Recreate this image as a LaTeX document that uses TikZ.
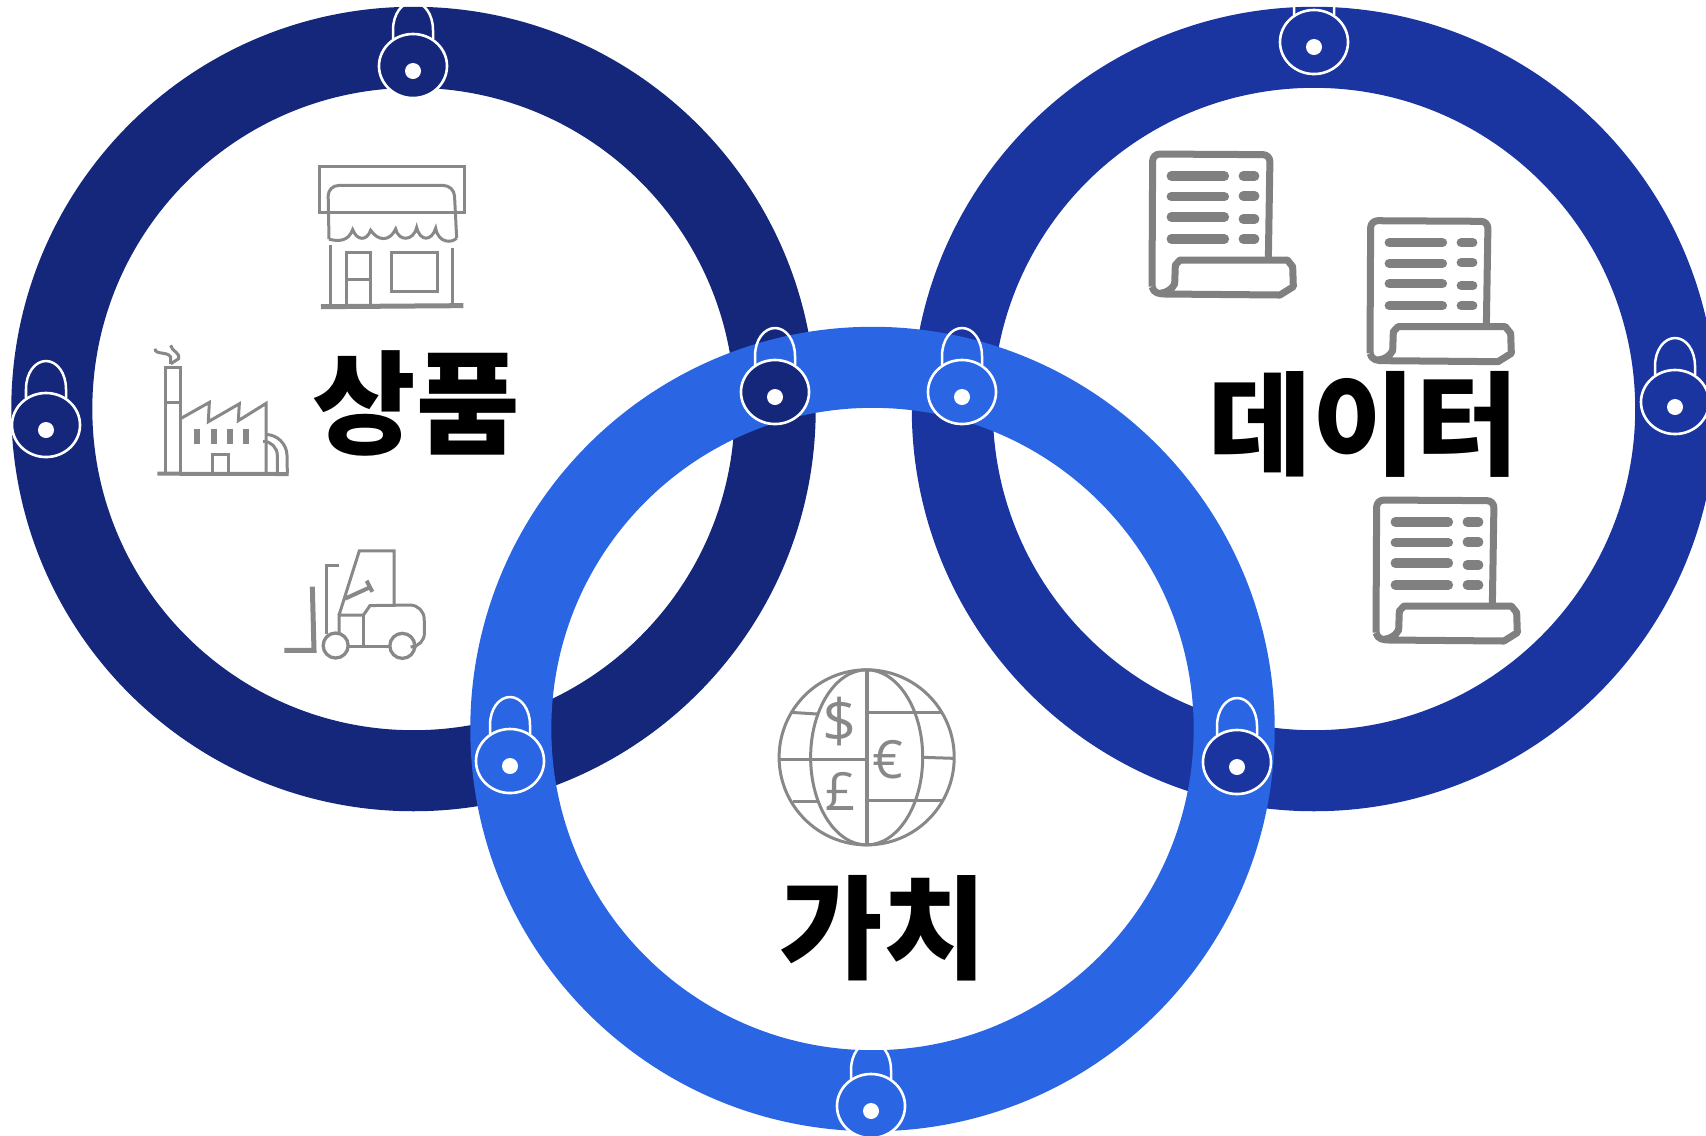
\documentclass[tikz,border=0pt]{standalone}
\usepackage{fontspec}
\usepackage{tikz}
\usetikzlibrary{shapes.geometric}
\newfontfamily\krfont{Noto Sans CJK KR}
\newfontfamily\symfont{Open Sans}
\definecolor{ringnavy}{HTML}{14277B}
\definecolor{ringroyal}{HTML}{1A34A0}
\definecolor{ringblue}{HTML}{2A66E4}
\definecolor{icongrey}{HTML}{888888}
\definecolor{docgrey}{HTML}{808080}
\begin{document}
\begin{tikzpicture}[x=0.01cm,y=-0.01cm]
\tikzstyle{ring}=[draw,circle,inner sep=0pt,line width=0.81cm,minimum size=7.23cm]
\tikzstyle{lockbody}=[draw=white,ellipse,line width=0.026cm,inner sep=0pt,minimum width=0.68cm,minimum height=0.64cm]
\tikzstyle{keyhole}=[fill=white,circle,inner sep=0pt,minimum size=0.16cm]
\tikzstyle{shackle}=[draw=white,line width=0.025cm]
\tikzstyle{title}=[font=\krfont\bfseries\fontsize{32}{32}\selectfont,inner sep=0pt]
\tikzstyle{money}=[font=\symfont\fontsize{15}{15}\selectfont,text=icongrey,inner sep=0pt]
\tikzstyle{thin}=[draw=icongrey,line width=0.03cm]
\tikzstyle{thick}=[draw=icongrey,line width=0.05cm]
\tikzstyle{doc}=[draw=docgrey,line width=0.07cm,line join=round]
\tikzstyle{docbar}=[draw=docgrey,line width=0.095cm,line cap=round]
\clip (0,0) rectangle (1706,1135);
\node [ring,draw=ringnavy] (ringL) at (413.5,409) {};
\node [ring,draw=ringroyal] (ringR) at (1314,409) {};
\node [ring,draw=ringblue] (ringB) at (872.5,729) {};
\foreach \n/\x/\y/\c in {a/413/66/ringnavy,b/46/425/ringnavy,c/775/392/ringnavy,d/962/392/ringblue,e/510/761/ringblue,f/1237/762/ringroyal,g/871/1106/ringblue,h/1314/42/ringroyal,i/1675/402/ringroyal}{
\begin{scope}[shift={(\x,\y)}]
\draw [shackle] (-20,-27) -- (-20,-36) .. controls (-20,-52) and (-11,-64) .. (0,-64) .. controls (11,-64) and (20,-52) .. (20,-36) -- (20,-27);
\node [lockbody,fill=\c] (lock\n) at (0,0) {};
\node [keyhole] (hole\n) at (0,5) {};
\end{scope}
}
\node [title] (labelL) at (416.5,403) {상품};
\node [title] (labelR) at (1364,424) {데이터};
\node [title] (labelB) at (883,928) {가치};
\begin{scope}[shift={(130,140)},xscale=1/3,yscale=1/2.904]
\draw [thin] (567,76) rectangle (1002,210);
\draw [thin,rounded corners=3pt] (597,288) -- (594,132) -- (972,132) -- (980,285);
\draw [thin] (597,288) .. controls (625,295) and (655,295) .. (668,260) .. controls (680,292) and (710,295) .. (722,262) .. controls (745,295) and (780,295) .. (797,258) .. controls (805,295) and (850,295) .. (860,254) .. controls (870,295) and (905,295) .. (917,256) .. controls (925,300) and (965,300) .. (980,285);
\draw [thin] (600,306) -- (600,480);
\draw [thin] (968,314) -- (968,480);
\draw [thick] (573,484) -- (1000,481);
\draw [thin] (648,476) -- (648,326) -- (720,326) -- (720,476);
\draw [thin] (648,404) -- (720,404);
\draw [thin] (783,326) rectangle (923,440);
\draw [thin] (105,968) -- (105,662) -- (150,662) -- (150,968);
\draw [thin] (105,762) -- (150,762);
\draw [thin] (75,606) .. controls (75,625) and (110,612) .. (122,630) -- (122,650);
\draw [thin] (122,596) .. controls (125,615) and (150,615) .. (146,635) -- (122,650);
\draw [thin] (150,810) -- (238,762) -- (235,818) -- (328,766) -- (325,815) -- (408,765) -- (408,968);
\foreach \w in {193,242,291,340}{
\fill [icongrey] (\w,840) rectangle (\w+18,882);
}
\draw [thin] (248,968) -- (248,913) -- (296,913) -- (296,968);
\draw [thin,rounded corners=6pt] (408,855) -- (470,855) -- (472,968);
\draw [thin,rounded corners=4pt] (408,875) -- (442,875) -- (442,968);
\draw [thick,line width=0.04cm] (82,969) -- (476,970);
\draw [thick] (463,1482) -- (552,1482) -- (547,1297);
\draw [thin] (627,1237) -- (590,1237) -- (590,1435);
\draw [thin] (627,1380) -- (688,1193) -- (792,1193) -- (792,1350);
\draw [thin,line width=0.04cm] (645,1332) -- (722,1298);
\draw [thin,line width=0.04cm] (710,1280) -- (727,1312);
\draw [thin] (627,1435) -- (627,1380) -- (700,1380) -- (720,1352) [rounded corners=4pt] -- (882,1350) -- (884,1472) -- (860,1472);
\draw [thin] (700,1380) -- (700,1470);
\draw [thin] (655,1470) -- (780,1470);
\node [draw=icongrey,circle,line width=0.033cm,inner sep=0pt,minimum size=0.25cm] (wheelA) at (617,1468) {};
\node [draw=icongrey,circle,line width=0.033cm,inner sep=0pt,minimum size=0.25cm] (wheelB) at (817,1469) {};
\end{scope}
\begin{scope}[shift={(1130,130)},scale=1/3]
\foreach \dx/\dy in {0/0,654/200,672/1038}{
\begin{scope}[shift={(\dx,\dy)}]
\draw [doc,rounded corners=2pt] (415,390) -- (420,74) -- (68,72) -- (66,470);
\draw [doc] (66,470) .. controls (70,490) and (90,492) .. (105,492) -- (450,495) -- (490,470) -- (488,410) -- (472,390) -- (150,390) -- (136,405) -- (134,462) .. controls (125,478) and (110,488) .. (90,490);
\foreach \b in {138,200,261,327}{
\draw [docbar] (124,\b) -- (283,\b);
}
\foreach \b in {138,198,267,327}{
\draw [docbar] (340,\b) -- (374,\b);
}
\end{scope}
}
\end{scope}
\begin{scope}[shift={(760,650)},scale=1/3]
\node [draw=icongrey,circle,line width=0.03cm,inner sep=0pt,minimum size=1.75cm] (globe) at (320,322) {};
\node [draw=icongrey,ellipse,line width=0.03cm,inner sep=0pt,minimum width=1.12cm,minimum height=1.75cm] (meridian) at (320,322) {};
\draw [thin,line width=0.04cm] (320,60) -- (320,582);
\draw [thin] (60,328) -- (320,328);
\draw [thin] (490,322) -- (582,325);
\draw [thin] (322,187) -- (545,187);
\draw [thin] (92,187) -- (172,192);
\draw [thin] (322,452) -- (545,452);
\draw [thin] (98,455) -- (170,455);
\node [money,font=\symfont\fontsize{17}{17}\selectfont] (dollar) at (240,215) {\$};
\node [money] (euro) at (385,330) {€};
\node [money] (pound) at (243,425) {£};
\end{scope}
\end{tikzpicture}
\end{document}
